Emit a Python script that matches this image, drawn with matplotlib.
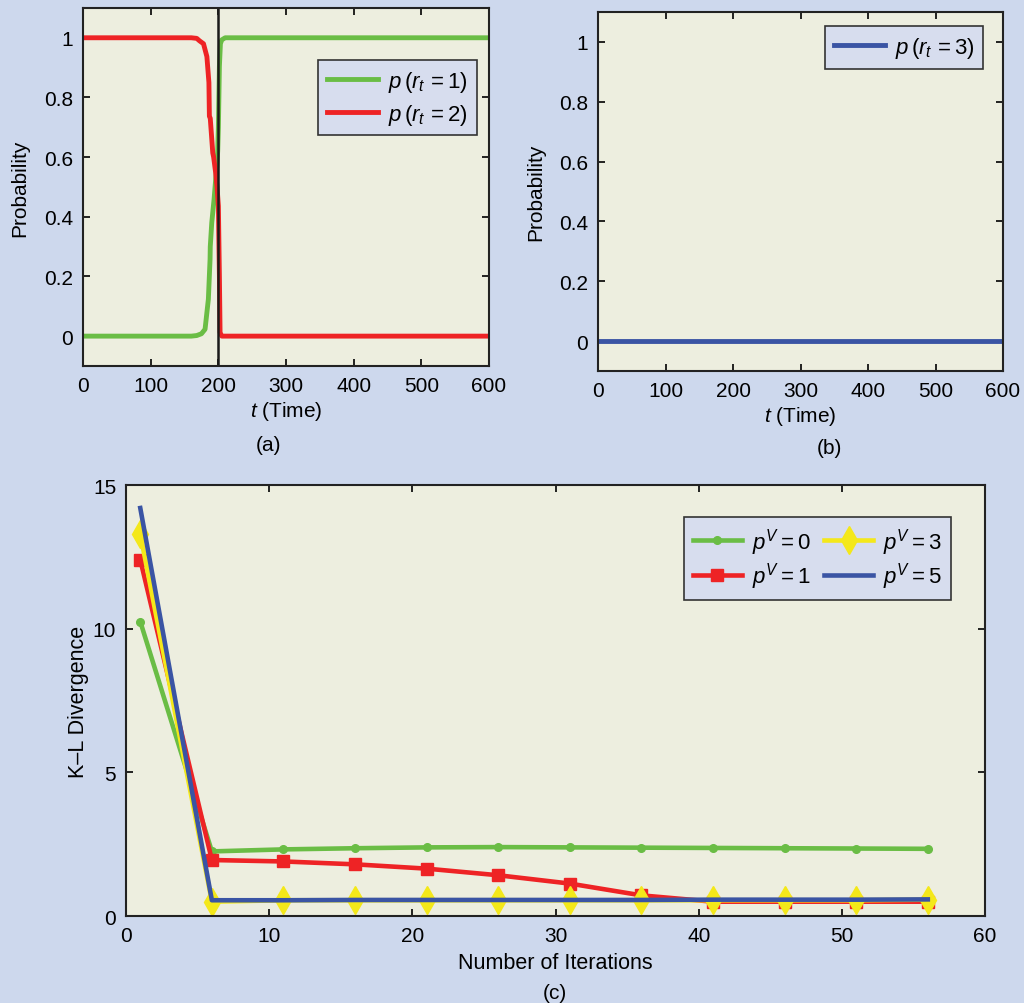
import matplotlib
matplotlib.use('Agg')
from matplotlib import pyplot as plt

# panel (a): switching probabilities over time
t_red = [0, 160, 168, 172, 178, 183, 186, 186.7, 188, 191.7, 193, 196, 198, 200, 201.5, 202.5, 205, 300, 600]
p_red = [1, 1, 0.998, 0.99, 0.98, 0.937, 0.85, 0.737, 0.73, 0.614, 0.6, 0.547, 0.5, 0.436, 0.2, 0.012, 0, 0, 0]
t_green = [0, 160, 168, 175, 180.3, 185.2, 187.7, 188, 190.2, 193.6, 197.6, 199, 200, 201.5, 203, 205, 210, 300, 600]
p_green = [0, 0, 0.002, 0.008, 0.023, 0.124, 0.258, 0.3, 0.38, 0.458, 0.57, 0.62, 0.7, 0.904, 0.98, 0.993, 1, 1, 1]
t_switch = 200

# panel (b)
t_blue = [0, 300, 600]
p_blue = [0, 0, 0]

# panel (c): K-L divergence vs iterations
iters = [1, 6, 11, 16, 21, 26, 31, 36, 41, 46, 51, 56]
kl_v0 = [10.25, 2.25, 2.32, 2.36, 2.39, 2.4, 2.39, 2.38, 2.37, 2.36, 2.35, 2.34]
kl_v1 = [12.4, 1.95, 1.9, 1.8, 1.65, 1.42, 1.13, 0.72, 0.5, 0.5, 0.5, 0.5]
kl_v3 = [13.3, 0.5, 0.55, 0.55, 0.55, 0.55, 0.55, 0.55, 0.55, 0.55, 0.55, 0.57]
kl_v5 = [14.2, 0.55, 0.55, 0.56, 0.56, 0.56, 0.56, 0.56, 0.57, 0.57, 0.57, 0.58]

prob_ticks = [0, 0.2, 0.4, 0.6, 0.8, 1]
prob_labels = ['0', '0.2', '0.4', '0.6', '0.8', '1']

GREEN = '#6abd45'
RED = '#ee2325'
BLUE = '#3a54a4'
YELLOW = '#f4e81a'
FIG_BG = '#cdd8ed'
AX_BG = '#edeedf'
LEG_BG = '#d7ddee'

plt.rcParams['font.family'] = ['Liberation Sans', 'DejaVu Sans']
plt.rcParams['mathtext.fontset'] = 'custom'
plt.rcParams['mathtext.rm'] = 'Liberation Sans'
plt.rcParams['mathtext.it'] = 'Liberation Sans:italic'
plt.rcParams['font.size'] = 15

fig = plt.figure(figsize=(10.24, 10.04), dpi=100, facecolor=FIG_BG)


def style(ax):
    ax.set_facecolor(AX_BG)
    ax.tick_params(direction='in', top=True, right=True, length=5, width=1.2,
                   labelsize=15, pad=7)
    for s in ax.spines.values():
        s.set_linewidth(1.5)
        s.set_color('#222222')


def legend(ax, **kw):
    leg = ax.legend(fancybox=False, framealpha=1, facecolor=LEG_BG, edgecolor='#333333',
                    fontsize=16, handletextpad=0.45, borderpad=0.4, borderaxespad=0, **kw)
    leg.get_frame().set_linewidth(1.2)
    return leg


# (a)
ax1 = fig.add_axes([0.0811, 0.6345, 0.3965, 0.3566])
style(ax1)
ax1.plot(t_green, p_green, color=GREEN, lw=3.5, label=r'$p\,(r_t\,=1)$')
ax1.plot(t_red, p_red, color=RED, lw=3.5, label=r'$p\,(r_t\,=2)$')
ax1.axvline(t_switch, color='#1a1a1a', lw=1.8)
ax1.set_xlim(0, 600)
ax1.set_ylim(-0.1, 1.1)
ax1.set_yticks(prob_ticks)
ax1.set_yticklabels(prob_labels)
ax1.set_xticks(range(0, 601, 100))
ax1.set_xlabel(r'$t$ (Time)', fontsize=15, labelpad=3)
ax1.set_ylabel('Probability', fontsize=15, labelpad=11)
legend(ax1, loc='upper right', bbox_to_anchor=(0.97, 0.855), labelspacing=0.35,
       handlelength=2.3)
fig.text(0.262, 0.556, '(a)', ha='center', va='center', fontsize=15)

# (b)
ax2 = fig.add_axes([0.584, 0.6295, 0.3955, 0.3576])
style(ax2)
ax2.plot(t_blue, p_blue, color=BLUE, lw=3.5, label=r'$p\,(r_t\,=3)$')
ax2.set_xlim(0, 600)
ax2.set_ylim(-0.1, 1.1)
ax2.set_yticks(prob_ticks)
ax2.set_yticklabels(prob_labels)
ax2.set_xticks(range(0, 601, 100))
ax2.set_xlabel(r'$t$ (Time)', fontsize=15, labelpad=3)
ax2.set_ylabel('Probability', fontsize=15, labelpad=10)
legend(ax2, loc='upper right', bbox_to_anchor=(0.951, 0.961), handlelength=2.3)
fig.text(0.81, 0.553, '(b)', ha='center', va='center', fontsize=15)

# (c)
ax3 = fig.add_axes([0.123, 0.0866, 0.839, 0.4293])
style(ax3)
ax3.plot(iters, kl_v0, color=GREEN, lw=3.3, marker='o', ms=5.5, label=r'$p^V = 0$')
ax3.plot(iters, kl_v1, color=RED, lw=3.3, marker='s', ms=8.5, label=r'$p^V = 1$')
ax3.plot(iters, kl_v3, color=YELLOW, lw=3.3, marker='d', ms=14, label=r'$p^V = 3$')
ax3.plot(iters, kl_v5, color=BLUE, lw=3.3, label=r'$p^V = 5$')
ax3.set_xlim(0, 60)
ax3.set_ylim(0, 15)
ax3.set_xticks(range(0, 61, 10))
ax3.set_yticks([0, 5, 10, 15])
ax3.set_xlabel('Number of Iterations', fontsize=15.5, labelpad=5)
ax3.set_ylabel('K\u2013L Divergence', fontsize=15.5, labelpad=3)
legend(ax3, loc='upper right', bbox_to_anchor=(0.96, 0.926), ncol=2,
       handlelength=2.2, columnspacing=0.6, labelspacing=0.15)
fig.text(0.542, 0.01, '(c)', ha='center', va='center', fontsize=15)

fig.savefig('out.png', dpi=100, facecolor=FIG_BG)
